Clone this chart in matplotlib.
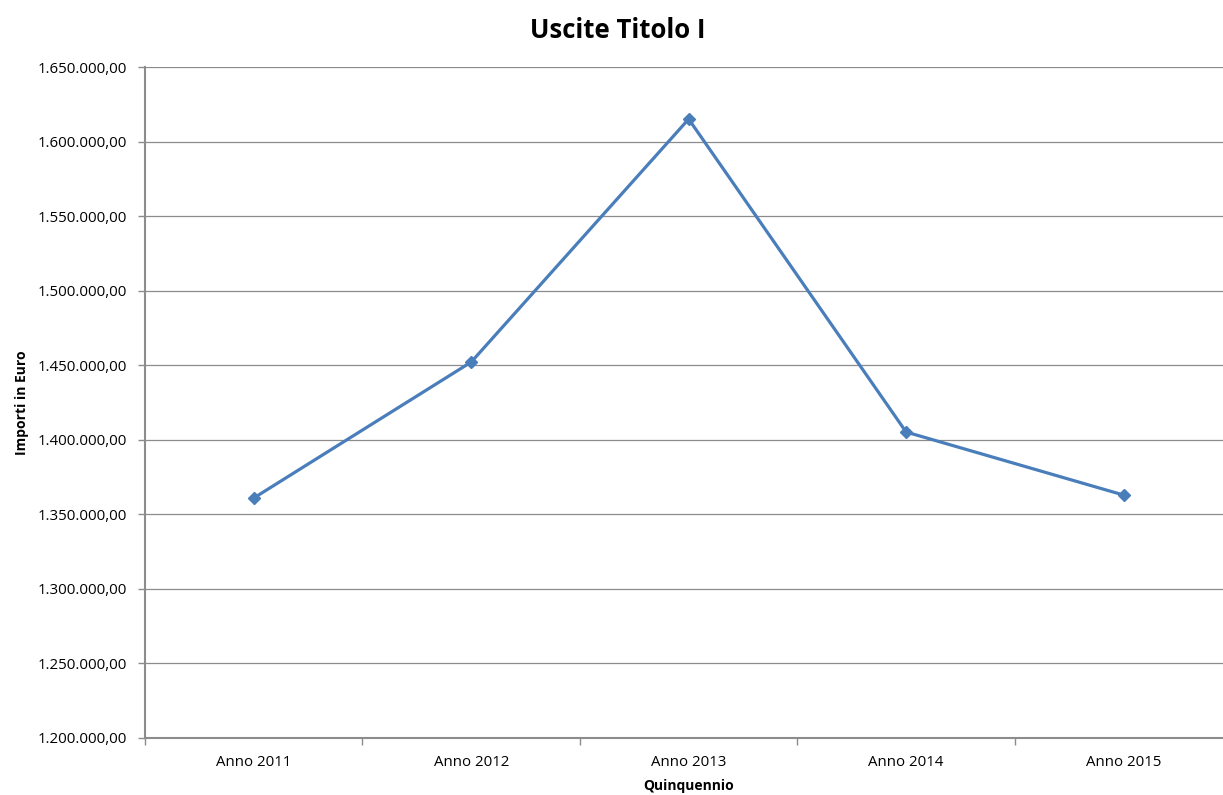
# Uscite Titolo I - andamento nel quinquennio

import numpy as np
import matplotlib.pyplot as plt
from matplotlib.ticker import FuncFormatter, FixedLocator

plt.rcParams['font.family'] = ['Open Sans', 'DejaVu Sans']

anni = ['Anno 2011', 'Anno 2012', 'Anno 2013', 'Anno 2014', 'Anno 2015']
importi = [1360950, 1452150, 1615100, 1405200, 1362950]

def fmt_euro(v, pos):
    s = '{:,.2f}'.format(v)
    return s.replace(',', 'X').replace('.', ',').replace('X', '.')

fig = plt.figure(figsize=(12.23, 7.95), dpi=100)
# il grafico originale e' leggermente tagliato a destra
ax = fig.add_axes([0.1186, 0.0717, 0.889, 0.844])

x = np.arange(len(anni))
ax.plot(x, importi, color='#4A7EBB', linewidth=2.3, marker='D', markersize=6.5,
        markerfacecolor='#4A7EBB', markeredgecolor='#4A7EBB', zorder=3, clip_on=False)

ax.set_xlim(-0.5, len(anni) - 0.5)
ax.set_ylim(1200000, 1650000)
ax.set_yticks(np.arange(1200000, 1650001, 50000))
ax.yaxis.set_major_formatter(FuncFormatter(fmt_euro))
ax.grid(axis='y', color='#8C8C8C', linewidth=0.9)
ax.set_axisbelow(True)

ax.set_xticks(x)
ax.set_xticklabels(anni)
ax.tick_params(axis='x', which='major', length=0, pad=12, labelsize=10.8)
ax.xaxis.set_minor_locator(FixedLocator(np.arange(-0.5, len(anni), 1.0)))
ax.tick_params(axis='x', which='minor', length=5, color='#8C8C8C', width=1)
ax.tick_params(axis='y', length=5, color='#8C8C8C', width=1, labelsize=10.8, pad=8)

for side in ['top', 'right']:
    ax.spines[side].set_visible(False)
for side in ['left', 'bottom']:
    ax.spines[side].set_color('#8C8C8C')
    ax.spines[side].set_linewidth(1.5)

ax.set_xlabel('Quinquennio', fontweight='bold', fontsize=10, labelpad=7)
ax.set_ylabel('Importi in Euro', fontweight='bold', fontsize=10, labelpad=6)
fig.text(0.505, 0.962, 'Uscite Titolo I', fontweight='bold', fontsize=18.5,
         ha='center', va='center')

fig.savefig('out.png', dpi=100)
plt.close()
